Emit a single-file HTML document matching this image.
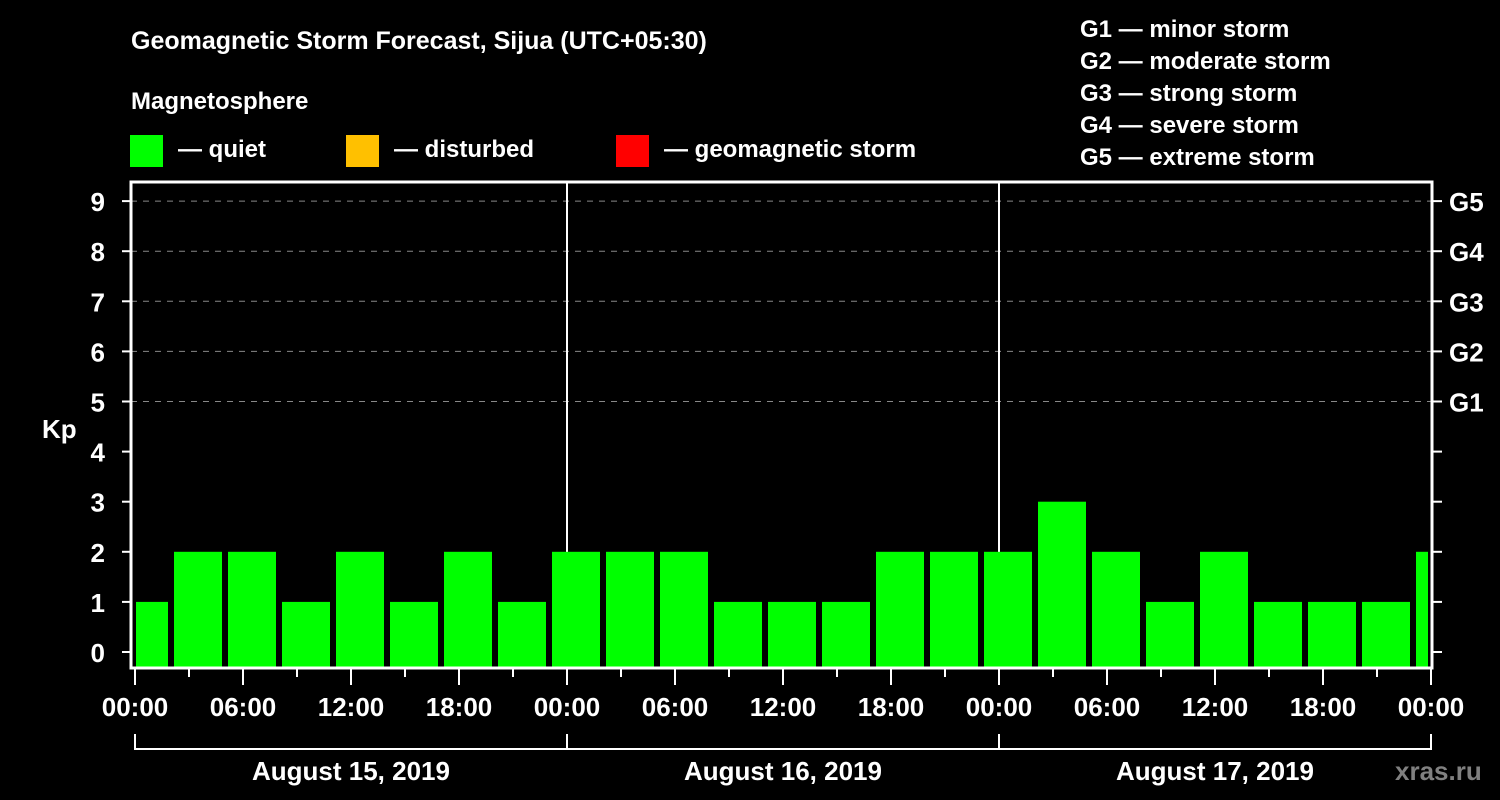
<!DOCTYPE html>
<html><head><meta charset="utf-8"><style>
html,body{margin:0;padding:0;background:#000;}
svg{display:block;}
text{font-family:"Liberation Sans",Arial,sans-serif;font-weight:bold;fill:#fff;}
</style></head><body>
<svg id="chart" width="1500" height="800" viewBox="0 0 1500 800" xmlns="http://www.w3.org/2000/svg">
<rect width="1500" height="800" fill="#000"/>
<text x="131" y="49" font-size="25">Geomagnetic Storm Forecast, Sijua (UTC+05:30)</text>
<text x="131" y="109" font-size="24">Magnetosphere</text>
<g><rect x="130" y="135" width="33" height="32" fill="#00ff00"/><text x="178" y="157" font-size="24">— quiet</text></g>
<g><rect x="346" y="135" width="33" height="32" fill="#ffc000"/><text x="394" y="157" font-size="24">— disturbed</text></g>
<g><rect x="616" y="135" width="33" height="32" fill="#ff0000"/><text x="664" y="157" font-size="24">— geomagnetic storm</text></g>
<g font-size="24">
<text x="1080" y="37">G1 — minor storm</text>
<text x="1080" y="69">G2 — moderate storm</text>
<text x="1080" y="101">G3 — strong storm</text>
<text x="1080" y="133">G4 — severe storm</text>
<text x="1080" y="165">G5 — extreme storm</text>
</g>
<text x="42" y="438" font-size="26">Kp</text>
<text x="1395" y="780" font-size="26" style="fill:#808080">xras.ru</text>
<g id="grid"></g>
<g id="bars"></g>
<g id="axes"></g>
</svg>
<script>
const kpValues = [1,2,2,1,2,1,2,1,2,2,2,1,1,1,2,2,2,3,2,1,2,1,1,1,2];
const yTicks = [0,1,2,3,4,5,6,7,8,9];
const gLabels = ["G1","G2","G3","G4","G5"];
const gLevels = [5,6,7,8,9];
const xTickLabels = ["00:00","06:00","12:00","18:00","00:00","06:00","12:00","18:00","00:00","06:00","12:00","18:00","00:00"];
const dayLabels = ["August 15, 2019","August 16, 2019","August 17, 2019"];

const NS="http://www.w3.org/2000/svg";
const X0=135, PXH=18, L=131, R=1432, T=182, B=668;
const y = v => 652 - v*50.1;
const x = h => X0 + h*PXH;
function mk(tag, attrs, parent, txt){const e=document.createElementNS(NS,tag);for(const k in attrs)e.setAttribute(k,attrs[k]);if(txt!==undefined)e.textContent=txt;parent.appendChild(e);return e;}
const grid=document.getElementById('grid'), bars=document.getElementById('bars'), axes=document.getElementById('axes');

gLevels.forEach((g,i)=>{
  const ln=mk('line',{x1:L,x2:R,y1:y(g),y2:y(g),stroke:'#888','stroke-dasharray':'6,6','stroke-width':1},grid);
  
  
  const t=mk('text',{x:1449,y:y(g)+10,'font-size':26},axes,gLabels[i]);
  
  
});
// first bar starts 2h before 00:00 local (offset), 3h bins
kpValues.forEach((v,i)=>{
  let x1=x(3*(i-1)+2)+3, x2=x1+48;
  x1=Math.max(x1,L+5); x2=Math.min(x2,R-4);
  const r=mk('rect',{x:x1,y:y(v),width:x2-x1,height:B-y(v),fill:v>=5?'#ff0000':(v>=4?'#ffc000':'#00ff00')},bars);
  
  
});
// day separators
[1,2].forEach(d=>{
  const ln=mk('line',{x1:x(24*d),x2:x(24*d),y1:T,y2:B,stroke:'#fff','stroke-width':2},grid);
  
  
});
const frame=mk('path',{d:`M${L} ${B} L${L} ${T} L${R} ${T} L${R} ${B} Z`,fill:'none',stroke:'#fff','stroke-width':3},axes);


yTicks.forEach(v=>{
  mk('line',{x1:122,x2:L,y1:y(v),y2:y(v),stroke:'#fff','stroke-width':2},axes);
  mk('line',{x1:R,x2:1442,y1:y(v),y2:y(v),stroke:'#fff','stroke-width':2},axes);
  const t=mk('text',{x:105,y:y(v)+10,'font-size':26,'text-anchor':'end'},axes,String(v));
  
  
});
for(let h=0;h<=72;h+=3){
  const major=h%6===0;
  mk('line',{x1:x(h),x2:x(h),y1:B,y2:major?685:677,stroke:'#fff','stroke-width':2},axes);
}
xTickLabels.forEach((lab,i)=>{
  const t=mk('text',{x:x(6*i),y:716,'font-size':26,'text-anchor':'middle'},axes,lab);
  
  
});
const br=mk('path',{d:`M${x(0)} 734 L${x(0)} 749 L${x(72)} 749 L${x(72)} 734 M${x(24)} 734 L${x(24)} 749 M${x(48)} 734 L${x(48)} 749`,fill:'none',stroke:'#fff','stroke-width':2},axes);


dayLabels.forEach((lab,i)=>{
  const t=mk('text',{x:x(24*i+12),y:780,'font-size':26,'text-anchor':'middle'},axes,lab);
  
  
});
</script>
</body></html>
